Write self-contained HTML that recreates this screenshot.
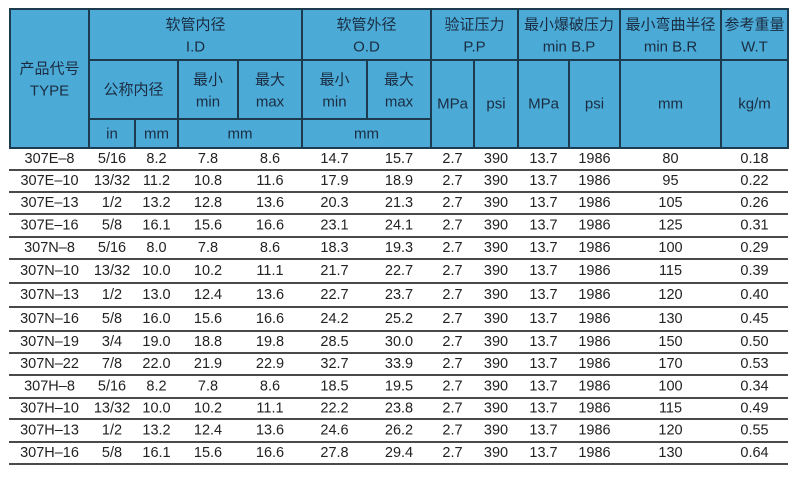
<!DOCTYPE html>
<html><head><meta charset="utf-8"><style>
html,body{margin:0;padding:0;background:#fff;width:800px;height:477px;overflow:hidden}
svg{display:block}
.h{font-family:"Liberation Sans","Noto Sans CJK SC",sans-serif;font-size:15px;fill:#1b2c42;text-anchor:middle;dominant-baseline:central}
.d{font-family:"Liberation Sans","Noto Sans CJK SC",sans-serif;font-size:14.5px;fill:#222;text-anchor:middle;dominant-baseline:central}
</style></head><body>
<svg width="800" height="477" viewBox="0 0 800 477" xmlns="http://www.w3.org/2000/svg">
<rect x="10" y="9" width="778" height="139" fill="#4babd6" stroke="#1d3a4e" stroke-width="2"/>
<g stroke="#1d3a4e" stroke-width="2">
<line x1="89" y1="9" x2="89" y2="148"/>
<line x1="89" y1="60" x2="788" y2="60"/>
<line x1="302" y1="9" x2="302" y2="148"/>
<line x1="431" y1="9" x2="431" y2="148"/>
<line x1="518" y1="9" x2="518" y2="148"/>
<line x1="620" y1="9" x2="620" y2="148"/>
<line x1="721" y1="9" x2="721" y2="148"/>
<line x1="89" y1="119" x2="431" y2="119"/>
<line x1="178" y1="60" x2="178" y2="148"/>
<line x1="238" y1="60" x2="238" y2="119"/>
<line x1="135" y1="119" x2="135" y2="148"/>
<line x1="367" y1="60" x2="367" y2="119"/>
<line x1="474" y1="60" x2="474" y2="148"/>
<line x1="569" y1="60" x2="569" y2="148"/>
</g>
<g class="h">
<text class="h" x="49.5" y="69">产品代号</text><text class="h" x="49.5" y="91">TYPE</text>
<text class="h" x="195.5" y="25">软管内径</text><text class="h" x="195.5" y="47">I.D</text>
<text class="h" x="366.5" y="25">软管外径</text><text class="h" x="366.5" y="47">O.D</text>
<text class="h" x="474.5" y="25">验证压力</text><text class="h" x="474.5" y="47">P.P</text>
<text class="h" x="569" y="25">最小爆破压力</text><text class="h" x="569" y="47">min B.P</text>
<text class="h" x="670.5" y="25">最小弯曲半径</text><text class="h" x="670.5" y="47">min B.R</text>
<text class="h" x="754.5" y="25">参考重量</text><text class="h" x="754.5" y="47">W.T</text>
<text class="h" x="133.5" y="90">公称内径</text>
<text class="h" x="208" y="80">最小</text><text class="h" x="208" y="102">min</text>
<text class="h" x="270" y="80">最大</text><text class="h" x="270" y="102">max</text>
<text class="h" x="334.5" y="80">最小</text><text class="h" x="334.5" y="102">min</text>
<text class="h" x="399" y="80">最大</text><text class="h" x="399" y="102">max</text>
<text class="h" x="452.5" y="104">MPa</text>
<text class="h" x="496" y="104">psi</text>
<text class="h" x="543.5" y="104">MPa</text>
<text class="h" x="594.5" y="104">psi</text>
<text class="h" x="670.5" y="104">mm</text>
<text class="h" x="754.5" y="104">kg/m</text>
<text class="h" x="112" y="134">in</text>
<text class="h" x="156.5" y="134">mm</text>
<text class="h" x="240" y="134">mm</text>
<text class="h" x="366.5" y="134">mm</text>
</g>
<g stroke="#4a4a4a" stroke-width="2">
<line x1="9" y1="170" x2="788" y2="170"/>
<line x1="9" y1="192" x2="788" y2="192"/>
<line x1="9" y1="214" x2="788" y2="214"/>
<line x1="9" y1="237" x2="788" y2="237"/>
<line x1="9" y1="259" x2="788" y2="259"/>
<line x1="9" y1="283" x2="788" y2="283"/>
<line x1="9" y1="307" x2="788" y2="307"/>
<line x1="9" y1="331" x2="788" y2="331"/>
<line x1="9" y1="353" x2="788" y2="353"/>
<line x1="9" y1="375" x2="788" y2="375"/>
<line x1="9" y1="398" x2="788" y2="398"/>
<line x1="9" y1="419" x2="788" y2="419"/>
<line x1="9" y1="442" x2="788" y2="442"/>
<line x1="9" y1="464" x2="788" y2="464"/>
</g>
<g id="rows"></g>
</svg>
<script>
var cx=[49.5,112,156.5,208,270,334.5,399,452.5,496,543.5,594.5,670.5,754.5];
var ys=[148,170,192,214,237,259,283,307,331,353,375,398,419,442,464];
var data=[
["307E–8","5/16","8.2","7.8","8.6","14.7","15.7","80","0.18"],
["307E–10","13/32","11.2","10.8","11.6","17.9","18.9","95","0.22"],
["307E–13","1/2","13.2","12.8","13.6","20.3","21.3","105","0.26"],
["307E–16","5/8","16.1","15.6","16.6","23.1","24.1","125","0.31"],
["307N–8","5/16","8.0","7.8","8.6","18.3","19.3","100","0.29"],
["307N–10","13/32","10.0","10.2","11.1","21.7","22.7","115","0.39"],
["307N–13","1/2","13.0","12.4","13.6","22.7","23.7","120","0.40"],
["307N–16","5/8","16.0","15.6","16.6","24.2","25.2","130","0.45"],
["307N–19","3/4","19.0","18.8","19.8","28.5","30.0","150","0.50"],
["307N–22","7/8","22.0","21.9","22.9","32.7","33.9","170","0.53"],
["307H–8","5/16","8.2","7.8","8.6","18.5","19.5","100","0.34"],
["307H–10","13/32","10.0","10.2","11.1","22.2","23.8","115","0.49"],
["307H–13","1/2","13.2","12.4","13.6","24.6","26.2","120","0.55"],
["307H–16","5/8","16.1","15.6","16.6","27.8","29.4","130","0.64"]];
var g=document.getElementById("rows"),ns="http://www.w3.org/2000/svg";
data.forEach(function(r,i){
 var vals=r.slice(0,7).concat(["2.7","390","13.7","1986"],r.slice(7));
 var y=(ys[i]+ys[i+1])/2;
 vals.forEach(function(v,j){
  var t=document.createElementNS(ns,"text");
  t.setAttribute("class","d");t.setAttribute("x",cx[j]);t.setAttribute("y",y);
  t.textContent=v;g.appendChild(t);
 });
});
</script>
</body></html>
